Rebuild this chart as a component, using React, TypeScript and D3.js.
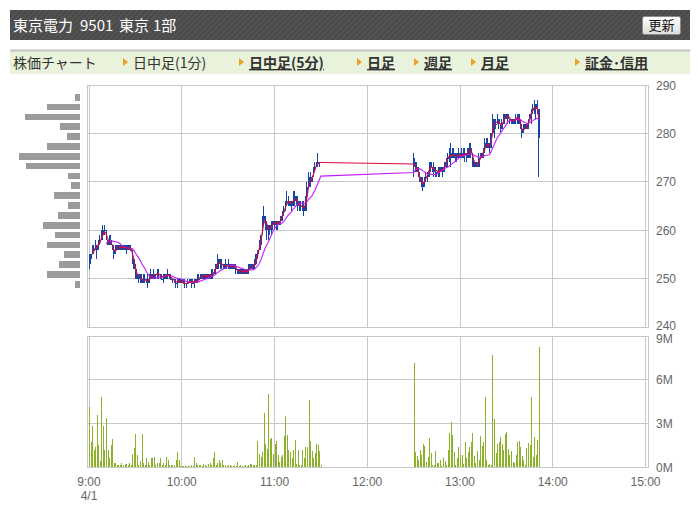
import React, { useEffect, useRef } from 'react';
import * as d3 from 'd3';

// 1分足 前場 9:00-11:30  [始値, 高値, 安値, 終値]
const amBars = [
  [252, 255, 252, 254], [254, 255, 253, 255], [255, 257, 255, 256], [256, 257, 255, 256], [256, 258, 256, 257],
  [257, 257, 254, 256], [256, 258, 256, 258], [258, 259, 257, 258], [258, 260, 258, 259], [259, 261, 258, 260],
  [260, 261, 259, 260], [260, 260, 258, 258], [258, 258, 257, 257], [257, 259, 257, 258], [258, 259, 257, 257],
  [257, 257, 256, 256], [256, 257, 254, 255], [255, 257, 255, 256], [256, 257, 256, 257], [257, 257, 256, 256],
  [256, 257, 256, 257], [257, 257, 256, 256], [256, 257, 256, 257], [257, 257, 256, 256], [256, 257, 255, 256],
  [256, 257, 256, 257], [257, 257, 256, 256], [256, 257, 256, 256], [256, 256, 253, 254], [254, 254, 252, 252],
  [252, 253, 250, 251], [251, 252, 250, 250], [250, 251, 249, 251], [251, 251, 249, 250], [250, 251, 249, 249],
  [249, 251, 249, 250], [250, 251, 249, 250], [250, 250, 249, 249], [249, 251, 248, 250], [250, 251, 249, 250],
  [250, 252, 250, 251], [251, 251, 250, 250], [250, 252, 250, 251], [251, 251, 250, 251], [251, 252, 250, 251],
  [251, 252, 250, 251], [251, 251, 250, 250], [250, 251, 250, 250], [250, 251, 249, 251], [251, 251, 250, 250],
  [250, 251, 250, 251], [251, 252, 250, 251], [251, 251, 250, 250], [250, 251, 250, 250], [250, 250, 249, 250],
  [250, 250, 249, 249], [249, 250, 248, 249], [249, 250, 248, 250], [250, 250, 249, 249], [249, 250, 249, 250],
  [250, 250, 249, 249], [249, 250, 249, 249], [249, 250, 248, 249], [249, 249, 248, 249], [249, 250, 249, 249],
  [249, 250, 249, 250], [249, 250, 248, 249], [249, 250, 249, 249], [249, 250, 248, 250], [250, 250, 249, 249],
  [249, 251, 249, 250], [250, 251, 250, 250], [250, 251, 250, 251], [251, 251, 250, 250], [250, 251, 250, 251],
  [251, 251, 250, 250], [250, 251, 250, 251], [251, 251, 250, 250], [250, 251, 250, 251], [251, 252, 250, 251],
  [251, 252, 250, 251], [251, 252, 251, 252], [252, 253, 251, 253], [253, 255, 252, 254], [254, 254, 252, 253],
  [253, 254, 252, 253], [253, 254, 252, 253], [253, 253, 252, 252], [252, 254, 252, 253], [253, 253, 252, 253],
  [253, 254, 252, 252], [252, 253, 252, 253], [253, 253, 252, 252], [252, 253, 252, 253], [253, 253, 252, 252],
  [252, 253, 251, 252], [252, 252, 251, 251], [251, 252, 251, 252], [252, 252, 251, 251], [251, 252, 251, 252],
  [252, 252, 251, 251], [251, 252, 251, 252], [252, 252, 251, 251], [251, 253, 251, 252], [252, 253, 252, 253],
  [253, 253, 252, 252], [252, 253, 252, 253], [253, 254, 252, 253], [253, 255, 253, 255], [255, 256, 254, 256],
  [256, 258, 256, 257], [257, 259, 256, 259], [259, 263, 259, 262], [262, 265, 261, 263], [263, 263, 260, 261],
  [261, 262, 258, 260], [260, 261, 258, 260], [260, 261, 259, 261], [261, 262, 259, 261], [261, 262, 260, 262],
  [262, 262, 260, 261], [261, 262, 260, 262], [262, 262, 260, 261], [261, 262, 261, 262], [262, 263, 261, 263],
  [263, 264, 262, 264], [264, 265, 263, 264], [264, 266, 264, 266], [266, 268, 265, 266], [266, 267, 265, 266],
  [266, 266, 265, 265], [265, 266, 264, 266], [266, 268, 265, 267], [267, 268, 265, 266], [266, 267, 265, 266],
  [266, 267, 264, 265], [265, 266, 264, 265], [265, 266, 264, 265], [265, 266, 264, 265], [265, 266, 263, 264],
  [264, 267, 264, 267], [267, 270, 267, 269], [269, 272, 269, 271], [271, 272, 269, 270], [270, 271, 270, 271],
  [271, 273, 271, 273], [273, 274, 272, 273], [273, 274, 273, 274], [274, 276, 273, 274], [274, 274, 273, 274],
  [274, 274, 274, 274],
];

// 1分足 後場 12:30-13:51
const pmBars = [
  [275, 276, 271, 273], [273, 274, 272, 273], [273, 274, 272, 272], [272, 273, 271, 271], [271, 272, 270, 270],
  [270, 271, 269, 269], [269, 271, 268, 270], [270, 271, 269, 271], [271, 272, 270, 271], [271, 272, 270, 272],
  [272, 274, 271, 274], [274, 274, 272, 273], [273, 273, 272, 272], [272, 274, 271, 273], [273, 273, 271, 272],
  [272, 272, 271, 272], [272, 273, 271, 272], [272, 273, 271, 273], [273, 273, 272, 272], [272, 273, 271, 273],
  [273, 274, 272, 274], [274, 275, 273, 275], [275, 276, 273, 275], [275, 277, 274, 276], [276, 278, 273, 275],
  [275, 277, 275, 276], [276, 277, 275, 275], [275, 276, 274, 275], [275, 276, 274, 276], [276, 277, 275, 275],
  [275, 276, 275, 276], [276, 277, 275, 275], [275, 277, 275, 276], [276, 277, 274, 276], [276, 276, 274, 275],
  [275, 277, 275, 277], [277, 278, 275, 277], [277, 278, 275, 276], [276, 276, 273, 274], [274, 275, 273, 273],
  [273, 274, 273, 274], [274, 274, 273, 273], [273, 276, 273, 275], [275, 276, 275, 276], [276, 276, 275, 275],
  [275, 277, 275, 277], [277, 279, 276, 278], [278, 279, 277, 278], [278, 279, 277, 277], [277, 278, 276, 277],
  [277, 280, 277, 280], [280, 284, 280, 283], [283, 283, 279, 282], [282, 283, 281, 282], [282, 284, 282, 283],
  [283, 283, 281, 282], [282, 282, 280, 281], [281, 283, 281, 282], [282, 284, 282, 284], [284, 284, 282, 283],
  [283, 284, 283, 284], [284, 284, 282, 283], [283, 283, 282, 283], [283, 283, 282, 282], [282, 283, 282, 283],
  [283, 283, 282, 283], [283, 284, 282, 283], [283, 284, 282, 284], [284, 284, 282, 282], [282, 283, 281, 281],
  [281, 282, 279, 280], [280, 282, 280, 281], [281, 282, 281, 282], [282, 282, 281, 281], [281, 283, 281, 283],
  [283, 284, 283, 284], [284, 285, 282, 285], [285, 286, 284, 285], [285, 287, 284, 286], [286, 286, 283, 285],
  [285, 287, 284, 285], [285, 285, 271, 279],
];

// 出来高 (百万株)
const amVolume = [
  4.1, 1.7, 2.8, 1.2, 1.4, 3.6, 1.5, 0.4, 4.8, 2.8, 1.2, 3.4, 1.2, 0.6, 1.5, 1.9, 0.25, 0.25, 0.14, 0.14,
  0.14, 0.3, 0.14, 0.2, 0.18, 0.14, 0.25, 0.12, 0.9, 1.3, 2.3, 0.8, 0.14, 0.4, 2.3, 0.3, 0.14, 0.6, 0.35, 0.14,
  0.6, 0.6, 0.7, 0.14, 0.25, 0.25, 0.6, 0.14, 0.25, 0.14, 0.7, 0.5, 0.14, 0.14, 0.12, 0.14, 0.45, 1.05, 0.5, 0.08,
  0.08, 0.1, 0.1, 0.1, 0.08, 0.1, 0.14, 0.1, 0.7, 0.25, 0.14, 0.14, 0.14, 0.1, 0.2, 0.14, 0.1, 0.2, 0.3, 0.14,
  0.6, 1.0, 0.14, 0.25, 0.5, 0.25, 0.5, 0.14, 0.12, 0.1, 0.12, 0.14, 0.1, 0.1, 0.12, 0.1, 0.35, 0.1, 0.12, 0.1,
  0.1, 0.14, 0.1, 0.14, 0.2, 0.2, 0.14, 0.14, 0.16, 1.8, 0.9, 0.7, 1.0, 3.7, 1.6, 1.25, 5.0, 1.9, 2.0, 0.9,
  1.6, 1.8, 0.8, 0.35, 0.7, 0.8, 2.1, 3.5, 2.2, 1.2, 1.05, 0.6, 1.2, 1.85, 0.2, 1.2, 0.16, 0.14, 1.2, 0.6,
  1.35, 1.4, 4.6, 1.8, 1.1, 0.6, 0.95, 1.6, 1.5, 1.1, 0.15,
];
const pmVolume = [
  7.16, 1.05, 0.75, 0.45, 1.15, 0.8, 1.6, 1.45, 0.35, 0.7, 2.0, 0.95, 0.15, 0.15, 1.1, 0.3, 0.3, 0.5, 0.1, 0.65,
  0.4, 0.14, 1.2, 2.35, 3.1, 2.2, 1.0, 0.14, 0.6, 1.4, 0.8, 0.8, 0.2, 1.7, 0.6, 1.0, 1.4, 1.7, 2.35, 0.75,
  0.25, 1.1, 0.5, 2.15, 1.45, 1.7, 4.8, 0.5, 0.14, 0.2, 0.14, 7.7, 3.3, 0.95, 1.55, 1.7, 2.05, 1.6, 1.15, 2.3,
  2.4, 1.25, 0.8, 1.1, 0.35, 0.25, 0.8, 1.7, 1.8, 1.35, 0.75, 0.5, 0.15, 1.3, 1.65, 1.5, 4.8, 0.7, 2.05, 0.8,
  1.85, 8.25,
];

// 価格帯別出来高 (高値側から, 相対値)
const profileVolume = [5, 33, 55, 20, 13, 33, 61, 54, 12, 9, 26, 12, 22, 37, 25, 33, 16, 21, 33, 5];
const profileRange = [247.8, 288.5];

const priceTicks = [290, 280, 270, 260, 250, 240];
const volumeTicks = [9, 6, 3, 0];
const timeTicks = ['9:00', '10:00', '11:00', '12:00', '13:00', '14:00', '15:00'];

const title = ['東京電力', '9501', '東京', '1部'];
const tabs = [
  { label: '日中足(1分)', link: false },
  { label: '日中足(5分)', link: true },
  { label: '日足', link: true },
  { label: '週足', link: true },
  { label: '月足', link: true },
  { label: '証金･信用', link: true },
];

const JP = '"Noto Sans CJK JP", "Noto Sans", sans-serif';
const NUM = '"Liberation Sans", Arial, sans-serif';

const toMin = (s) => {
  const [h, m] = s.split(':').map(Number);
  return h * 60 + m;
};

const App = () => {
  const ref = useRef(null);

  useEffect(() => {
    const svg = d3.select(ref.current);
    svg.selectAll('*').remove();

    const defs = svg.append('defs');
    const pat = defs.append('pattern')
      .attr('id', 'stripe')
      .attr('width', 4).attr('height', 4)
      .attr('patternUnits', 'userSpaceOnUse')
      .attr('patternTransform', 'rotate(45)');
    pat.append('rect').attr('width', 4).attr('height', 4).attr('fill', '#4a4a4a');
    pat.append('rect').attr('width', 1.5).attr('height', 4).attr('fill', '#565656');

    const btnGrad = defs.append('linearGradient').attr('id', 'btn').attr('x1', 0).attr('y1', 0).attr('x2', 0).attr('y2', 1);
    btnGrad.append('stop').attr('offset', '0%').attr('stop-color', '#ffffff');
    btnGrad.append('stop').attr('offset', '100%').attr('stop-color', '#dcdcdc');

    // header
    svg.append('rect').attr('x', 10).attr('y', 10).attr('width', 680).attr('height', 30).attr('fill', 'url(#stripe)');
    const tx = [13, 80, 119, 153];
    svg.append('g').selectAll('text').data(title).enter().append('text')
      .attr('x', (d, i) => tx[i]).attr('y', 31)
      .attr('font-family', JP).attr('font-size', 15).attr('fill', '#ffffff')
      .text(d => d);
    svg.append('rect').attr('x', 642.5).attr('y', 16.5).attr('width', 38).attr('height', 18).attr('rx', 2)
      .attr('fill', 'url(#btn)').attr('stroke', '#8a8a8a');
    svg.append('text').attr('x', 661.5).attr('y', 30).attr('text-anchor', 'middle')
      .attr('font-family', JP).attr('font-size', 13).attr('fill', '#111').text('更新');

    // tab bar
    svg.append('rect').attr('x', 10).attr('y', 50).attr('width', 680).attr('height', 24).attr('fill', '#e9f2da');
    svg.append('rect').attr('x', 10).attr('y', 49.5).attr('width', 680).attr('height', 2).attr('fill', '#c4c4c4');
    svg.append('text').attr('x', 13).attr('y', 68).attr('font-family', JP).attr('font-size', 14).attr('fill', '#333')
      .text('株価チャート');
    const tabX = [133, 249, 367, 424, 481, 585];
    const tg = svg.append('g').selectAll('g').data(tabs).enter().append('g');
    tg.append('path')
      .attr('d', (d, i) => `M${tabX[i] - 10},${58} L${tabX[i] - 5},${62} L${tabX[i] - 10},${66} Z`)
      .attr('fill', '#f0a020');
    tg.append('text')
      .attr('x', (d, i) => tabX[i]).attr('y', 68)
      .attr('font-family', JP).attr('font-size', 14).attr('fill', '#333')
      .attr('font-weight', d => (d.link ? 'bold' : 'normal'))
      .attr('text-decoration', d => (d.link ? 'underline' : 'none'))
      .text(d => d.label);

    // scales
    const left = 87, right = 648.5;
    const x = d3.scaleLinear().domain([toMin('9:00'), toMin('15:00')]).range([89, 645.5]);
    const y = d3.scaleLinear().domain([240, 290]).range([327, 85]);
    const yv = d3.scaleLinear().domain([0, 9]).range([467, 336]);

    const grid = '#c8c8c8';
    const g = svg.append('g').attr('shape-rendering', 'crispEdges');

    // panels frame + grid
    [[85, 327], [336, 467]].forEach(([t, b]) => {
      g.append('line').attr('x1', left).attr('x2', left).attr('y1', t).attr('y2', b).attr('stroke', grid);
      g.append('line').attr('x1', right).attr('x2', right).attr('y1', t).attr('y2', b).attr('stroke', grid);
      g.selectAll(null).data(timeTicks).enter().append('line')
        .attr('x1', d => x(toMin(d))).attr('x2', d => x(toMin(d)))
        .attr('y1', t).attr('y2', b).attr('stroke', grid);
    });
    g.selectAll(null).data(priceTicks).enter().append('line')
      .attr('x1', left).attr('x2', right).attr('y1', d => y(d)).attr('y2', d => y(d)).attr('stroke', grid);
    g.selectAll(null).data(volumeTicks).enter().append('line')
      .attr('x1', left).attr('x2', right).attr('y1', d => yv(d)).attr('y2', d => yv(d)).attr('stroke', grid);

    // labels
    svg.append('g').selectAll('text').data(priceTicks).enter().append('text')
      .attr('x', 656).attr('y', d => y(d) + (d === 240 ? 3 : 4.5))
      .attr('font-family', NUM).attr('font-size', 12).attr('fill', '#666')
      .text(d => d);
    svg.append('g').selectAll('text').data(volumeTicks).enter().append('text')
      .attr('x', 656).attr('y', d => yv(d) + (d === 9 ? 6.5 : 4.5))
      .attr('font-family', NUM).attr('font-size', 12).attr('fill', '#666')
      .text(d => `${d}M`);
    svg.append('g').selectAll('text').data(timeTicks).enter().append('text')
      .attr('x', d => x(toMin(d))).attr('y', 486).attr('text-anchor', 'middle')
      .attr('font-family', NUM).attr('font-size', 12).attr('fill', '#666')
      .text(d => d);
    svg.append('text').attr('x', 89).attr('y', 500).attr('text-anchor', 'middle')
      .attr('font-family', NUM).attr('font-size', 12).attr('fill', '#666').text('4/1');

    // price profile
    const nb = profileVolume.length;
    const step = (profileRange[1] - profileRange[0]) / nb;
    const px = d3.scaleLinear().domain([0, d3.max(profileVolume)]).range([0, 61]);
    g.selectAll(null).data(profileVolume).enter().append('rect')
      .attr('x', d => 80 - px(d))
      .attr('y', (d, i) => y(profileRange[1] - i * step - step * 0.16))
      .attr('width', d => px(d))
      .attr('height', y(0) - y(step * 0.68))
      .attr('fill', '#9b9b9b');

    // bars
    const all = [
      ...amBars.map((b, i) => ({ t: toMin('9:00') + i, o: b[0], h: b[1], l: b[2], c: b[3], v: amVolume[i] })),
      ...pmBars.map((b, i) => ({ t: toMin('12:30') + i, o: b[0], h: b[1], l: b[2], c: b[3], v: pmVolume[i] })),
    ];

    g.selectAll(null).data(all).enter().append('rect')
      .attr('x', d => Math.round(x(d.t)) - 0.5)
      .attr('y', d => yv(d.v))
      .attr('width', 1)
      .attr('height', d => yv(0) - yv(d.v))
      .attr('fill', '#8cb12a');

    const blue = '#1446a6';
    g.selectAll(null).data(all).enter().append('rect')
      .attr('x', d => x(d.t) - 0.5)
      .attr('y', d => y(d.h))
      .attr('width', 1)
      .attr('height', d => Math.max(1, y(d.l) - y(d.h)))
      .attr('fill', blue);
    g.selectAll(null).data(all).enter().append('rect')
      .attr('x', d => x(d.t) - 0.5)
      .attr('y', d => y(Math.max(d.o, d.c)))
      .attr('width', 1.6)
      .attr('height', d => Math.max(1, Math.abs(y(d.o) - y(d.c))))
      .attr('fill', blue);

    // moving averages
    const ma = (n) => all.slice(n - 1).map((d, i) => ({ t: d.t, v: d3.mean(all.slice(i, i + n), e => e.c) }));
    const line = d3.line().x(d => x(d.t)).y(d => y(d.v));
    svg.append('path').datum(ma(12)).attr('d', line).attr('fill', 'none')
      .attr('stroke', '#c41cff').attr('stroke-width', 1.1);
    svg.append('path').datum(ma(3)).attr('d', line).attr('fill', 'none')
      .attr('stroke', '#dc0a3c').attr('stroke-width', 1.1);
  }, []);

  return (
    <svg ref={ref} width={699} height={514} style={{ position: 'absolute', left: 0, top: 0, background: '#fff' }}></svg>
  );
};

export default App;
